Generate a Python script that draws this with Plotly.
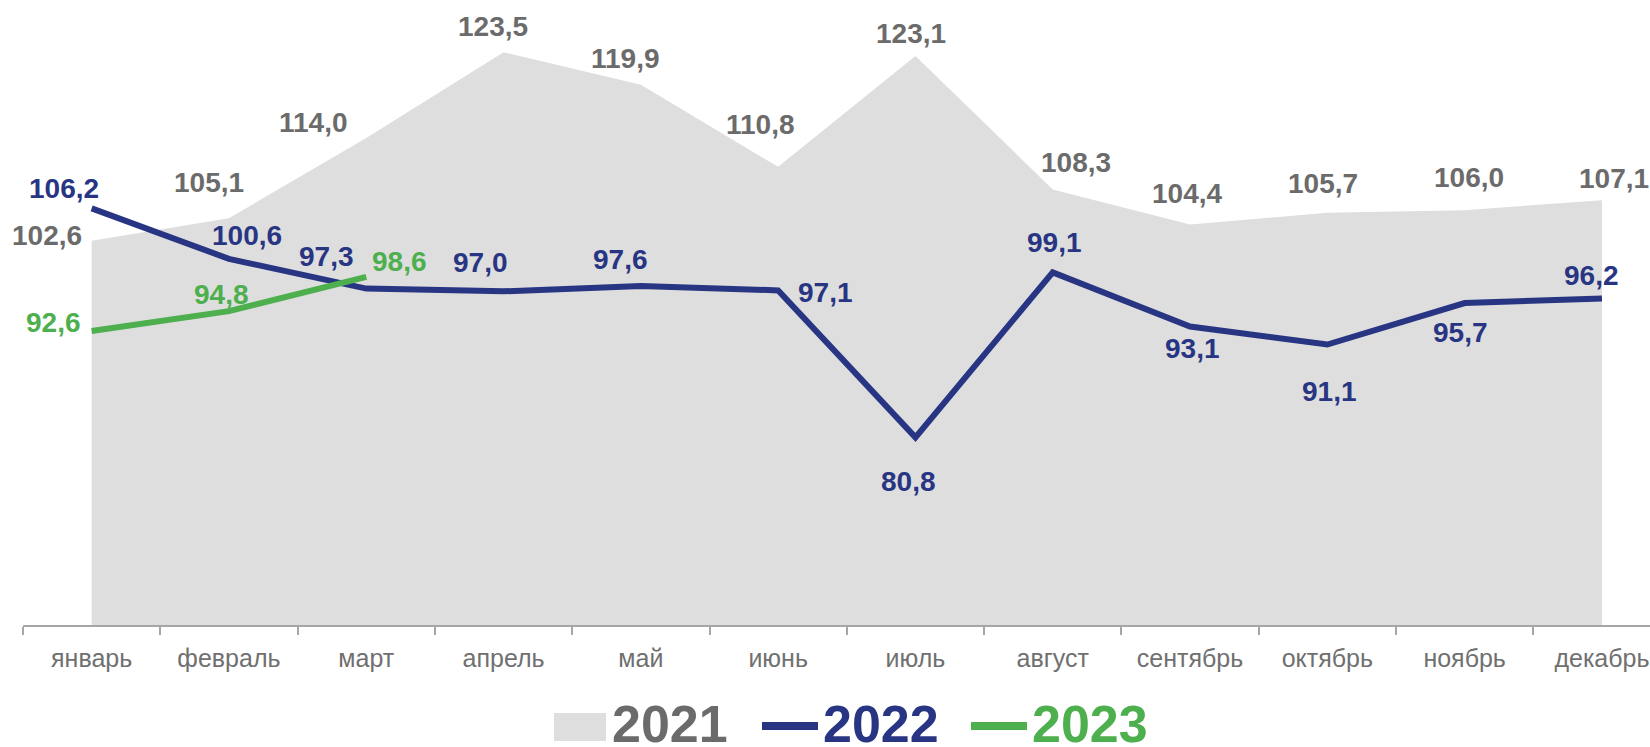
import plotly.graph_objects as go

months = ["январь", "февраль", "март", "апрель", "май", "июнь", "июль",
          "август", "сентябрь", "октябрь", "ноябрь", "декабрь"]
y2021 = [102.6, 105.1, 114.0, 123.5, 119.9, 110.8, 123.1, 108.3, 104.4, 105.7, 106.0, 107.1]
y2022 = [106.2, 100.6, 97.3, 97.0, 97.6, 97.1, 80.8, 99.1, 93.1, 91.1, 95.7, 96.2]
y2023 = [92.6, 94.8, 98.6]

# label offsets in screen pixels (dx right, dy down)
off2021 = [(-45, -5), (-20, -36), (-53, -15), (-11, -26), (-15, -26), (-18, -42),
           (-4, -22), (23, -27), (-3, -31), (-4, -29), (4, -33), (12, -22)]
off2022 = [(-28, -20), (18, -23), (-40, -32), (-23, -29), (-20, -26), (47, 2),
           (-7, 44), (2, -30), (2, 22), (2, 47), (-4, 29), (-10, -23)]
off2023 = [(-38, -8), (-7, -17), (33, -15)]

GRAY_FILL = "#DEDEDE"
GRAY_TXT = "#6B6B6B"
BLUE = "#283583"
GREEN = "#4DAF4E"
FONT = "Liberation Sans, Arial, sans-serif"

W, H = 1650, 747
ML, MR, MT, MB = 23, 0, 0, 122
PW, PH = W - ML - MR, H - MT - MB


def px_x(p):
    return (p - ML) / PW


def px_y(p):
    return (H - MB - p) / PH


fig = go.Figure()
fig.add_trace(go.Scatter(x=months, y=y2021, mode="lines", fill="tozeroy",
                         fillcolor=GRAY_FILL, line=dict(width=0, color=GRAY_FILL),
                         name="2021", hoverinfo="skip"))
fig.add_trace(go.Scatter(x=months, y=y2022, mode="lines",
                         line=dict(width=6, color=BLUE), name="2022"))
fig.add_trace(go.Scatter(x=months[:len(y2023)], y=y2023, mode="lines",
                         line=dict(width=6, color=GREEN), name="2023"))

ann = []


def fmt(v):
    return f"{v:.1f}".replace(".", ",")


for vals, offs, col in [(y2021, off2021, GRAY_TXT), (y2022, off2022, BLUE), (y2023, off2023, GREEN)]:
    for i, v in enumerate(vals):
        dx, dy = offs[i]
        ann.append(dict(x=months[i], y=v, xref="x", yref="y",
                        text="<b>" + fmt(v) + "</b>",
                        showarrow=False, xanchor="center", yanchor="middle",
                        xshift=dx, yshift=-dy,
                        font=dict(family=FONT, size=28, color=col)))

# custom legend
shapes = []
leg_y = 726
shapes.append(dict(type="rect", xref="paper", yref="paper",
                   x0=px_x(554), x1=px_x(606), y0=px_y(741), y1=px_y(713),
                   fillcolor=GRAY_FILL, line=dict(width=0)))
shapes.append(dict(type="line", xref="paper", yref="paper",
                   x0=px_x(762), x1=px_x(818), y0=px_y(leg_y), y1=px_y(leg_y),
                   line=dict(color=BLUE, width=8)))
shapes.append(dict(type="line", xref="paper", yref="paper",
                   x0=px_x(971), x1=px_x(1027), y0=px_y(leg_y), y1=px_y(leg_y),
                   line=dict(color=GREEN, width=8)))
for txt, xl, col in [("2021", 610, GRAY_TXT), ("2022", 821, BLUE), ("2023", 1030, GREEN)]:
    ann.append(dict(x=px_x(xl), y=px_y(leg_y - 2), xref="paper", yref="paper",
                    text="<b>" + txt + "</b>", showarrow=False,
                    xanchor="left", yanchor="middle",
                    font=dict(family=FONT, size=52, color=col)))

fig.update_layout(
    width=W, height=H,
    margin=dict(l=ML, r=MR, t=MT, b=MB),
    paper_bgcolor="white", plot_bgcolor="white",
    showlegend=False,
    annotations=ann, shapes=shapes,
    xaxis=dict(type="category", range=[-0.5, 11.35], showgrid=False,
               showline=True, linecolor="#A6A6A6", linewidth=1.5,
               ticks="outside", tickson="boundaries", ticklen=8,
               tickcolor="#A6A6A6", tickwidth=1.5, ticklabelstandoff=10,
               tickfont=dict(family=FONT, size=25, color="#707070")),
    yaxis=dict(range=[60, 129.3], visible=False, showgrid=False, zeroline=False),
)

fig.write_html("out.html", config={"displayModeBar": False},
               post_script="document.body.style.margin='0';document.body.style.overflow='hidden';")
